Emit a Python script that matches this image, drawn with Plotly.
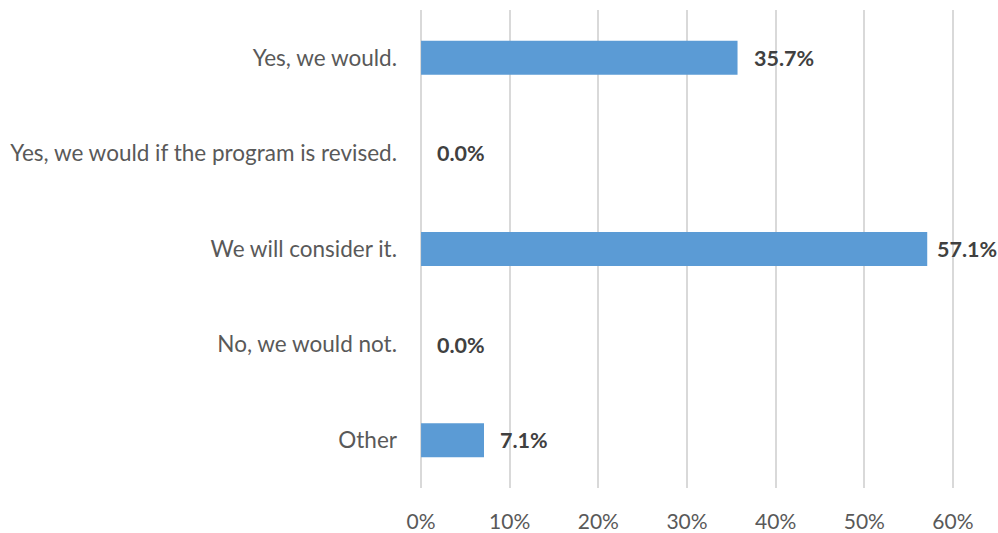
import plotly.graph_objects as go

categories = [
    "Yes, we would.",
    "Yes, we would if the program is revised.",
    "We will consider it.",
    "No, we would not.",
    "Other",
]
values = [35.7, 0.0, 57.1, 0.0, 7.1]
x_ticks = [0, 10, 20, 30, 40, 50, 60]
x_tick_labels = ["0%", "10%", "20%", "30%", "40%", "50%", "60%"]

FONT = "Lato"
BAR_COLOR = "#5B9BD5"
GRID = "#D9D9D9"

fig = go.Figure()
fig.add_trace(go.Bar(
    x=values,
    y=categories,
    orientation="h",
    marker=dict(color=BAR_COLOR, line=dict(width=0)),
    hoverinfo="skip",
))

# value labels to the right of each bar; the longest bar's label is
# tucked a little closer so it stays inside the page
for cat, v in zip(categories, values):
    fig.add_annotation(
        x=v, y=cat, xref="x", yref="y",
        text=f"<b>{v:.1f}%</b>",
        showarrow=False, xanchor="left", yanchor="middle",
        xshift=14 if v < 50 else 8,
        font=dict(family=FONT, size=21.5, color="#404040"),
    )

fig.update_layout(
    width=998, height=533,
    margin=dict(l=420, r=44, t=10, b=45, autoexpand=False),
    paper_bgcolor="white", plot_bgcolor="white",
    bargap=0.645,
    showlegend=False,
    font=dict(family=FONT, size=22, color="#595959"),
)
fig.update_xaxes(
    range=[-0.12, 60.12],
    automargin=False,
    tickvals=x_ticks, ticktext=x_tick_labels,
    showgrid=True, gridcolor=GRID, gridwidth=1.5,
    zeroline=True, zerolinecolor=GRID, zerolinewidth=1.5,
    showline=False,
    ticks="", ticklabelstandoff=19,
    tickfont=dict(family=FONT, size=21, color="#595959"),
)
fig.update_yaxes(
    categoryorder="array", categoryarray=categories,
    autorange="reversed",
    automargin=False,
    showgrid=False, zeroline=False, showline=False,
    ticks="", ticklabelstandoff=22,
    tickfont=dict(family=FONT, size=22.5, color="#595959"),
)

fig.write_html("out.html")
